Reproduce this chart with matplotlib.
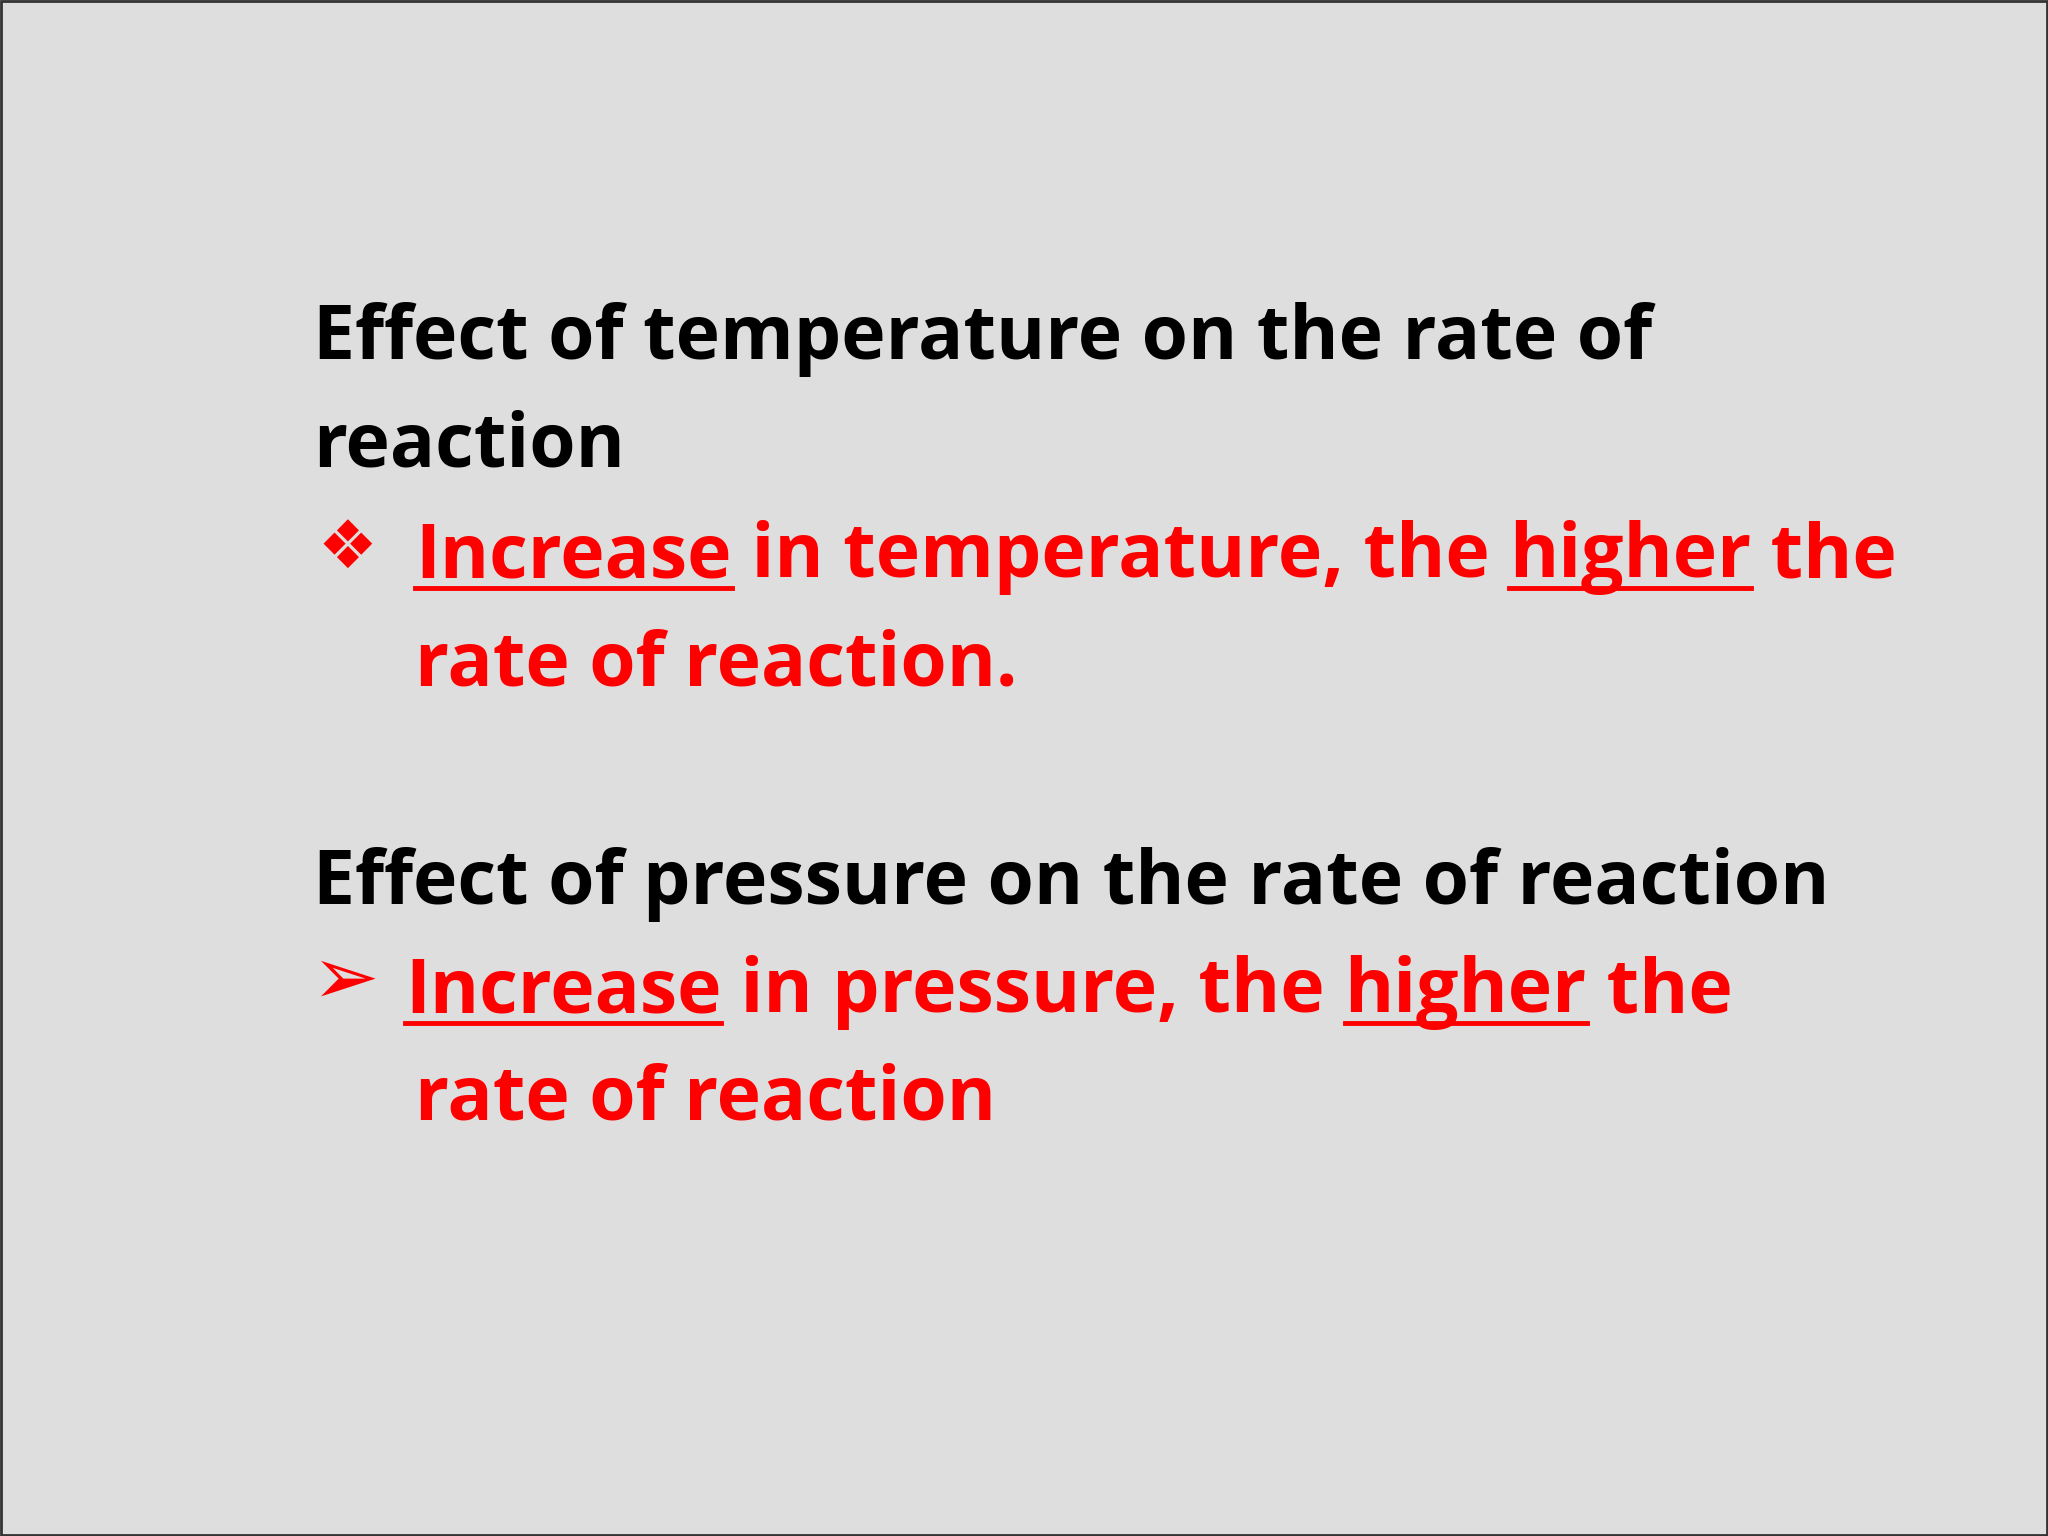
import matplotlib
matplotlib.use("Agg")
import matplotlib.pyplot as plt
from matplotlib.lines import Line2D
from matplotlib.patches import Rectangle

W, H = 1568.0, 1176.0
FONT = "Open Sans"
SIZE = 54
RED = "#ff0000"

headings = [("Effect of temperature on the rate of", 240, 275),
            ("reaction", 240, 357),
            ("Effect of pressure on the rate of reaction", 240, 692)]
# red lines: list of (segments, x, baseline); segment = (text, underlined)
red_lines = [([("Increase", True), (" in temperature, the ", False), ("higher", True), (" the", False)], 318, 442),
             ([("rate of reaction.", False)], 318, 525),
             ([("Increase", True), (" in pressure, the ", False), ("higher", True), (" the", False)], 310, 775),
             ([("rate of reaction", False)], 318, 857)]
bullets = [("\u2756", 243, 435, 48), ("\u27a2", 238, 768, 58)]

fig = plt.figure(figsize=(20.48, 15.36), dpi=100)
fig.patch.set_facecolor("#dedede")
ax = fig.add_axes([0, 0, 1, 1])
ax.set_xlim(0, W); ax.set_ylim(H, 0); ax.axis("off")
ax.add_patch(Rectangle((1, 1), W - 2, H - 2, fill=False, ec="#333333", lw=2))

for t, x, y in headings:
    ax.text(x, y, t, fontfamily=FONT, fontweight="bold", fontsize=SIZE, color="black", va="baseline")
for b, x, y, s in bullets:
    ax.text(x, y, b, fontfamily="DejaVu Sans", fontsize=s, color=RED, va="baseline")

fig.canvas.draw()
r = fig.canvas.get_renderer()
inv = ax.transData.inverted()
for segs, x, y in red_lines:
    cx = x
    for t, u in segs:
        txt = ax.text(cx, y, t, fontfamily=FONT, fontweight="bold", fontsize=SIZE, color=RED, va="baseline")
        bb = txt.get_window_extent(r)
        (x0, _), (x1, _) = inv.transform([(bb.x0, 0), (bb.x1, 0)])
        if u:
            ax.add_line(Line2D([cx, x1], [y + 8, y + 8], color=RED, lw=3.5))
        cx = x1
fig.savefig("out.png", dpi=100, facecolor=fig.get_facecolor())
